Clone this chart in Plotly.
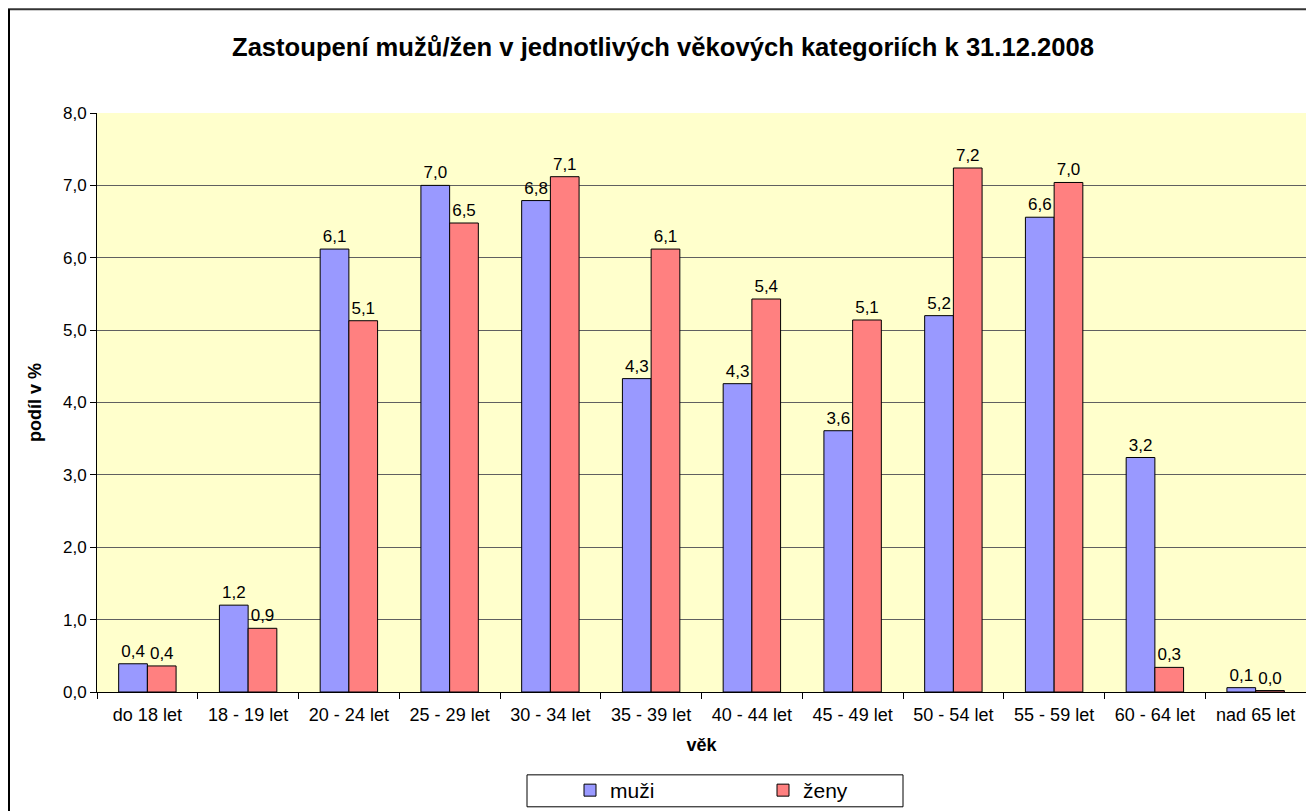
import plotly.graph_objects as go

categories = ["do 18 let", "18 - 19 let", "20 - 24 let", "25 - 29 let", "30 - 34 let",
              "35 - 39 let", "40 - 44 let", "45 - 49 let", "50 - 54 let", "55 - 59 let",
              "60 - 64 let", "nad 65 let"]
muzi = [0.39, 1.20, 6.12, 7.00, 6.79, 4.33, 4.26, 3.61, 5.20, 6.56, 3.24, 0.06]
zeny = [0.36, 0.88, 5.13, 6.48, 7.12, 6.12, 5.43, 5.14, 7.24, 7.04, 0.34, 0.02]
y_ticks = [0, 1, 2, 3, 4, 5, 6, 7, 8]

FONT = "Liberation Sans, Arial, sans-serif"

fig = go.Figure()
fig.add_trace(go.Bar(
    name="muži", x=categories, y=muzi,
    marker=dict(color="#9999FF", line=dict(color="black", width=1)),
    texttemplate="%{y:.1f}", textposition="outside",
    textfont=dict(family=FONT, size=17, color="black"), cliponaxis=False,
))
fig.add_trace(go.Bar(
    name="ženy", x=categories, y=zeny,
    marker=dict(color="#FF8080", line=dict(color="black", width=1)),
    texttemplate="%{y:.1f}", textposition="outside",
    textfont=dict(family=FONT, size=17, color="black"), cliponaxis=False,
))

W, H = 1306, 811
L, R, T, B = 97, 0, 113, 118
pw, ph = W - L - R, H - T - B


def px_x(x):
    return (x - L) / pw


def px_y(y):
    return (T + ph - y) / ph


fig.update_layout(
    width=W, height=H,
    margin=dict(l=L, r=R, t=T, b=B),
    paper_bgcolor="white", plot_bgcolor="#FFFFCC",
    separators=", ",
    barmode="group", bargap=0.43, bargroupgap=0,
    font=dict(family=FONT, size=18, color="black"),
    title=dict(text="<b>Zastoupení mužů/žen v jednotlivých věkových kategoriích k 31.12.2008</b>",
               x=px_x(663), xref="paper", xanchor="center",
               y=1 - 47 / H, yref="container", yanchor="middle",
               font=dict(family=FONT, size=25.6, color="black")),
    xaxis=dict(
        tickson="boundaries", ticks="outside", ticklen=6, tickcolor="black",
        showline=True, linecolor="black", linewidth=1,
        tickfont=dict(family=FONT, size=18),
        ticklabelstandoff=6,
        title=dict(text="<b>věk</b>", font=dict(family=FONT, size=18), standoff=14),
    ),
    yaxis=dict(
        range=[0, 8], tickvals=y_ticks, tickformat=".1f",
        ticks="outside", ticklen=6, tickcolor="black",
        showline=True, linecolor="black", linewidth=1,
        showgrid=True, gridcolor="#606060", gridwidth=1,
        zeroline=False,
        tickfont=dict(family=FONT, size=17),
        title=dict(text="<b>podíl v %</b>", font=dict(family=FONT, size=18), standoff=16),
    ),
    legend=dict(
        orientation="h", x=px_x(570), xanchor="left",
        y=px_y(792), yanchor="middle",
        borderwidth=0, bgcolor="rgba(0,0,0,0)",
        entrywidth=148, entrywidthmode="pixels",
        font=dict(family=FONT, size=21),
    ),
    showlegend=True,
)

# legend frame
fig.add_shape(type="rect", xref="paper", yref="paper",
              x0=px_x(527), x1=px_x(903), y0=px_y(808), y1=px_y(776),
              line=dict(color="black", width=1), fillcolor="rgba(0,0,0,0)")

# outer chart border (left and top visible)
fig.add_shape(type="line", xref="paper", yref="paper",
              x0=px_x(8), x1=px_x(W + 20), y0=px_y(9), y1=px_y(9),
              line=dict(color="#333333", width=2))
fig.add_shape(type="line", xref="paper", yref="paper",
              x0=px_x(9), x1=px_x(9), y0=px_y(9), y1=px_y(H + 20),
              line=dict(color="black", width=2))

fig.write_html("out.html", config={"displayModeBar": False},
               post_script="document.body.style.margin='0px';")
